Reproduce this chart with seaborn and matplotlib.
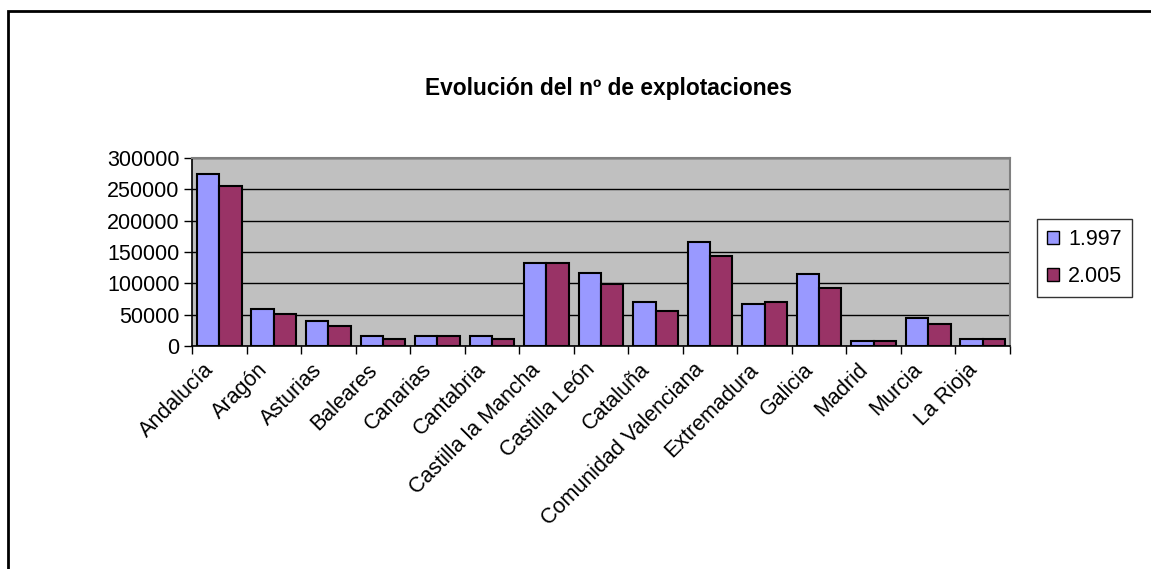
import matplotlib
matplotlib.use("Agg")
import matplotlib.pyplot as plt
import matplotlib.transforms as mtransforms
from matplotlib.patches import Rectangle
import seaborn as sns
import pandas as pd
import numpy as np

# ---- data ----
categories = ["Andalucía", "Aragón", "Asturias", "Baleares", "Canarias", "Cantabria",
              "Castilla la Mancha", "Castilla León", "Cataluña", "Comunidad Valenciana",
              "Extremadura", "Galicia", "Madrid", "Murcia", "La Rioja"]
series_names = ["1.997", "2.005"]
values_1997 = [274000, 59000, 40500, 15500, 15500, 15500, 133000, 117000, 70000,
               165500, 66500, 114500, 8500, 44000, 11500]
values_2005 = [255000, 50500, 31500, 11500, 15500, 11500, 133000, 98500, 56500,
               143000, 70000, 92000, 8500, 34500, 11500]
y_ticks = [0, 50000, 100000, 150000, 200000, 250000, 300000]
title = "Evolución del nº de explotaciones"

df = pd.DataFrame({
    "Comunidad": categories * 2,
    "Año": [series_names[0]] * len(categories) + [series_names[1]] * len(categories),
    "Explotaciones": values_1997 + values_2005,
})

sns.set_theme(style="white")
plt.rcParams['font.family'] = ['Liberation Sans', 'DejaVu Sans']
plt.rcParams['text.color'] = 'black'
plt.rcParams['xtick.color'] = 'black'
plt.rcParams['ytick.color'] = 'black'
plt.rcParams['axes.labelcolor'] = 'black'

W, H = 1151, 569
fig = plt.figure(figsize=(W / 100, H / 100), dpi=100)
fig.patch.set_facecolor("white")

left, right, top, bottom = 192, 1010, 158, 346
ax = fig.add_axes([left / W, 1 - bottom / H, (right - left) / W, (bottom - top) / H])

sns.barplot(data=df, x="Comunidad", y="Explotaciones", hue="Año",
            palette=["#9999FF", "#993366"], width=0.82, saturation=1,
            edgecolor="black", linewidth=1.5, errorbar=None, ax=ax)

ax.set_facecolor("#C0C0C0")
ax.set_xlim(-0.5, len(categories) - 0.5)
ax.set_ylim(0, 300000)
ax.set_axisbelow(True)
ax.yaxis.grid(True, color="black", linewidth=1)
ax.xaxis.grid(False)
ax.set_xlabel("")
ax.set_ylabel("")

for side in ["top", "right"]:
    ax.spines[side].set_color("#808080")
    ax.spines[side].set_linewidth(1.5)
for side in ["left", "bottom"]:
    ax.spines[side].set_color("black")
    ax.spines[side].set_linewidth(1.2)

ax.set_yticks(y_ticks)
ax.set_yticklabels([str(v) for v in y_ticks])
ax.tick_params(axis="y", left=True, length=6, width=1, direction="out",
               labelsize=15.5, pad=3, colors="black")

ax.set_xticks(range(len(categories)))
ax.set_xticklabels(categories, rotation=45, ha="right", va="center",
                   rotation_mode="anchor", fontsize=15.5, color="black")
ax.tick_params(axis="x", which="major", bottom=False, length=0, pad=15)
ax.set_xticks(np.arange(-0.5, len(categories), 1), minor=True)
ax.tick_params(axis="x", which="minor", bottom=True, length=6, width=1,
               direction="out", color="black")
offset = mtransforms.ScaledTranslation(-9 / 100, 0, fig.dpi_scale_trans)
for lab in ax.get_xticklabels():
    lab.set_transform(lab.get_transform() + offset)

handles, labels = ax.get_legend_handles_labels()
if ax.get_legend() is not None:
    ax.get_legend().remove()
leg = fig.legend(handles, labels, loc="upper left",
                 bbox_to_anchor=(1037 / W, 1 - 219 / H), frameon=True,
                 fancybox=False, edgecolor="black", facecolor="white",
                 fontsize=15.5, handlelength=0.55, handleheight=0.55,
                 handletextpad=0.45, borderpad=0.45, labelspacing=0.75,
                 borderaxespad=0)
leg.get_frame().set_linewidth(1)
for t in leg.get_texts():
    t.set_color("black")
for h in leg.legend_handles:
    h.set_edgecolor("black")
    h.set_linewidth(1)

fig.text(608 / W, 1 - 88 / H, title, ha="center", va="center",
         fontsize=16.4, fontweight="bold", color="black")

fig.add_artist(Rectangle((8 / W, -0.05), 1.2, (1 - 11 / H) + 0.05,
                         transform=fig.transFigure, fill=False,
                         edgecolor="black", linewidth=2, clip_on=False))

fig.savefig("out.png", dpi=100)
